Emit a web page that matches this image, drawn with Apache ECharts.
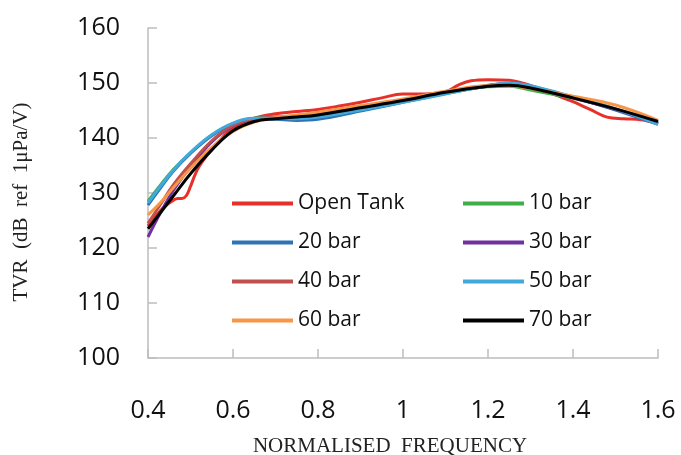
<!DOCTYPE html>
<html>
<head>
<meta charset="utf-8">
<script src="https://cdn.jsdelivr.net/npm/echarts@6/dist/echarts.min.js"></script>
<style>html,body{margin:0;padding:0;background:#fff;}#c{width:681px;height:455px;}</style>
</head>
<body>
<div id="c"></div>
<script>
const xTicks = [0.4, 0.6, 0.8, 1.0, 1.2, 1.4, 1.6];
const yTicks = [100, 110, 120, 130, 140, 150, 160];
const seriesNames = ['Open Tank', '10 bar', '20 bar', '30 bar', '40 bar', '50 bar', '60 bar', '70 bar'];

const freqs = [0.40, 0.43, 0.46, 0.50, 0.55, 0.60, 0.65, 0.70, 0.75, 0.80, 0.90, 1.00, 1.10, 1.20, 1.25, 1.30, 1.40, 1.50, 1.60];
const openTankFreqs = [0.40, 0.42, 0.44, 0.46, 0.47, 0.48, 0.49, 0.50, 0.51, 0.52, 0.54, 0.56, 0.60, 0.65, 0.70, 0.75, 0.80, 0.85, 0.90, 0.95, 1.00, 1.05, 1.10, 1.13, 1.16, 1.20, 1.25, 1.28, 1.32, 1.36, 1.40, 1.44, 1.48, 1.52, 1.56, 1.60];

const openTank = [124.0, 126.0, 127.6, 128.7, 129.0, 129.0, 129.5, 131.2, 133.2, 134.8, 137.0, 138.8, 141.8, 143.6, 144.4, 144.8, 145.2, 145.8, 146.5, 147.3, 148.0, 148.0, 148.4, 149.6, 150.4, 150.6, 150.5, 150.0, 149.0, 147.8, 146.6, 145.2, 143.8, 143.5, 143.3, 142.6];
const bar10 = [128.5, 131.5, 134.3, 137.3, 140.5, 142.6, 143.6, 143.8, 143.8, 144.0, 145.3, 146.6, 148.1, 149.3, 149.4, 148.7, 147.2, 145.2, 142.8];
const bar20 = [127.8, 131.0, 134.0, 137.2, 140.4, 142.6, 143.5, 143.4, 143.2, 143.4, 144.9, 146.5, 148.1, 149.5, 149.9, 149.4, 147.4, 145.1, 142.5];
const bar30 = [122.0, 126.5, 130.5, 134.8, 139.3, 142.2, 143.4, 143.6, 143.8, 144.1, 145.3, 146.7, 148.2, 149.4, 149.7, 149.1, 147.3, 145.2, 142.6];
const bar40 = [124.5, 128.0, 131.5, 135.3, 139.5, 142.3, 143.5, 143.8, 144.0, 144.4, 145.6, 146.9, 148.3, 149.6, 149.9, 149.3, 147.4, 145.3, 142.8];
const bar50 = [128.2, 131.3, 134.2, 137.4, 140.6, 142.7, 143.6, 143.6, 143.5, 143.8, 145.1, 146.5, 148.0, 149.5, 150.0, 149.5, 147.5, 145.3, 142.5];
const bar60 = [126.0, 128.3, 131.0, 134.5, 138.3, 141.2, 142.9, 143.7, 144.2, 144.7, 145.9, 147.1, 148.5, 149.5, 149.5, 149.0, 147.6, 146.0, 143.2];
const bar70 = [123.5, 126.5, 129.5, 133.5, 137.8, 141.3, 143.0, 143.5, 143.8, 144.2, 145.5, 146.8, 148.3, 149.4, 149.6, 149.1, 147.3, 145.3, 143.0];

const colors = ['#e8302a', '#3fae49', '#2e74b5', '#7030a0', '#c0504d', '#41a9dc', '#f79646', '#000000'];

const valueSets = [openTank, bar10, bar20, bar30, bar40, bar50, bar60, bar70];
const freqSets = [openTankFreqs, freqs, freqs, freqs, freqs, freqs, freqs, freqs];

const series = seriesNames.map((name, i) => ({
  name: name,
  type: 'line',
  smooth: 0.4,
  showSymbol: false,
  symbol: 'none',
  color: colors[i],
  lineStyle: { width: 3, color: colors[i] },
  data: freqSets[i].map((f, j) => [f, valueSets[i][j]]),
  z: 2 + i
}));

const chart = echarts.init(document.getElementById('c'), null, { renderer: 'canvas' });
const labelFont = { fontFamily: 'Open Sans', fontSize: 25, color: '#111' };
const legendBase = {
  orient: 'vertical',
  top: 188,
  icon: 'rect',
  itemWidth: 61,
  itemHeight: 4,
  itemGap: 18,
  textStyle: { fontFamily: 'Open Sans', fontSize: 21, color: '#111', lineHeight: 21 },
  selectedMode: false
};
chart.setOption({
  animation: false,
  backgroundColor: '#ffffff',
  grid: { left: 148, right: 23, top: 28, bottom: 97, containLabel: false, outerBoundsMode: 'none' },
  xAxis: {
    type: 'value', min: xTicks[0], max: xTicks[xTicks.length - 1], interval: 0.2,
    name: 'NORMALISED  FREQUENCY', nameLocation: 'middle', nameGap: 78,
    nameTextStyle: { fontFamily: 'Liberation Serif', fontSize: 21, color: '#222', padding: [0, 26, 0, 0] },
    axisLine: { show: true, lineStyle: { color: '#bdbdbd', width: 1.5 } },
    axisTick: { show: true, inside: true, length: 9, lineStyle: { color: '#bdbdbd', width: 1.5 } },
    axisLabel: Object.assign({ margin: 40, formatter: v => String(Math.round(v * 10) / 10) }, labelFont),
    splitLine: { show: false }
  },
  yAxis: {
    type: 'value', min: yTicks[0], max: yTicks[yTicks.length - 1], interval: 10,
    name: 'TVR  (dB  ref  1μPa/V)', nameLocation: 'middle', nameGap: 116,
    nameTextStyle: { fontFamily: 'Liberation Serif', fontSize: 21, color: '#222', padding: [0, 18, 0, 0] },
    axisLine: { show: true, lineStyle: { color: '#bdbdbd', width: 1.5 } },
    axisTick: { show: true, inside: true, length: 9, lineStyle: { color: '#bdbdbd', width: 1.5 } },
    axisLabel: Object.assign({ margin: 28 }, labelFont),
    splitLine: { show: false }
  },
  legend: [
    Object.assign({ left: 227, data: ['Open Tank', '20 bar', '40 bar', '60 bar'] }, legendBase),
    Object.assign({ left: 458, data: ['10 bar', '30 bar', '50 bar', '70 bar'] }, legendBase)
  ],
  series: series
});
</script>
</body>
</html>
